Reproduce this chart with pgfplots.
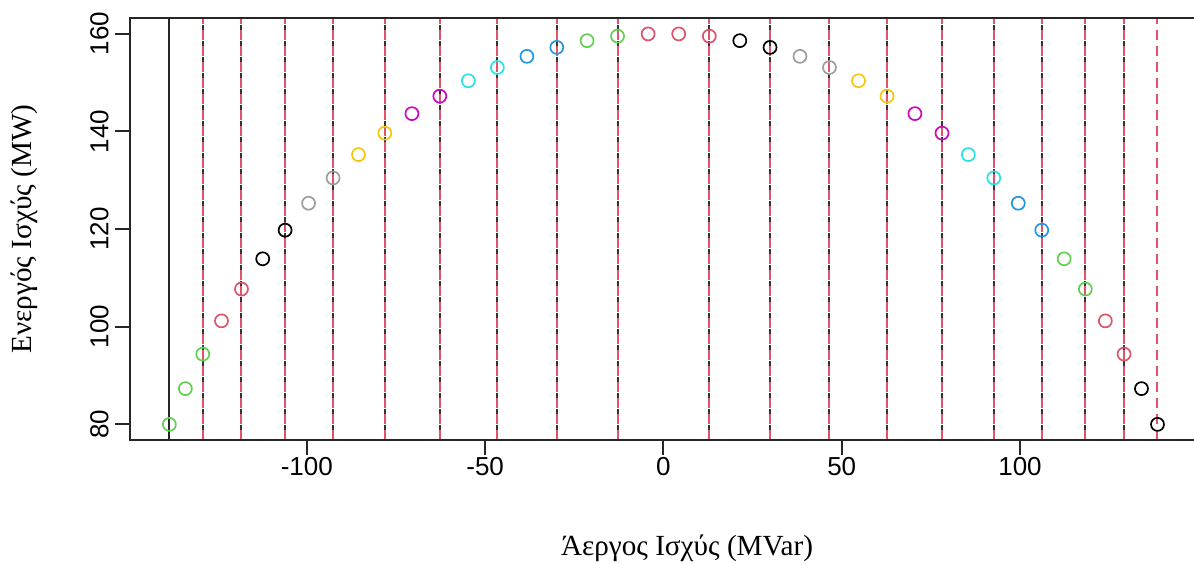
\documentclass[border=0pt]{standalone}
\usepackage{fontspec}
\setmainfont{Liberation Serif}
\setsansfont{Liberation Sans}
\usepackage{pgfplots}
\pgfplotsset{compat=1.18}
\usetikzlibrary{calc}
\definecolor{rblack}{HTML}{000000}
\definecolor{rred}{HTML}{DF536B}
\definecolor{rgreen}{HTML}{61D04F}
\definecolor{rblue}{HTML}{2297E6}
\definecolor{rcyan}{HTML}{28E2E5}
\definecolor{rmagenta}{HTML}{CD0BBC}
\definecolor{ryellow}{HTML}{F5C710}
\definecolor{rgray}{HTML}{9E9E9E}
\begin{document}
\begin{tikzpicture}
\begin{axis}[name=ax, scale only axis, width=532pt, height=211pt,
  xmin=-149.6, xmax=148.8, ymin=76.8, ymax=163.2,
  clip=false,
  axis line style={draw=none},
  xtick={-100,-50,0,50,100}, xticklabels={-100,-50,0,50,100},
  ytick={80,100,120,140,160}, yticklabels={80,100,120,140,160},
  xtick pos=lower, ytick pos=left,
  tick align=outside, major tick length=7.5pt,
  tick style={black!85, line width=1pt},
  ticklabel style={font=\fontsize{13}{15}\sffamily},
  xticklabel style={anchor=north, inner sep=0pt},
  xticklabel shift=1pt,
  yticklabel style={rotate=90, anchor=south, inner sep=0pt},
  yticklabel shift=3pt,
  xlabel={Άεργος Ισχύς (MVar)},
  ylabel={Ενεργός Ισχύς (MW)},
  label style={font=\fontsize{14.6}{17}\selectfont},
  xlabel style={at={(axis description cs:0.5235,0)}, anchor=center, yshift=-54pt},
  ylabel style={at={(axis description cs:0,0.5)}, anchor=center, yshift=53pt},
  every axis plot/.append style={only marks, mark=o, mark size=3.25pt, mark options={line width=0.85pt}},
]
\addplot[rgreen] coordinates {(-138.56,80.00) (-134.07,87.32) (-129.19,94.39) (-21.42,158.56) (-12.87,159.48) (112.38,113.90) (118.33,107.70)};
\addplot[rred] coordinates {(-123.94,101.19) (-118.33,107.70) (-4.29,159.94) (4.29,159.94) (12.87,159.48) (123.94,101.19) (129.19,94.39)};
\addplot[rblack] coordinates {(-112.38,113.90) (-106.10,119.76) (21.42,158.56) (29.90,157.18) (134.07,87.32) (138.56,80.00)};
\addplot[rgray] coordinates {(-99.52,125.28) (-92.65,130.45) (38.29,155.35) (46.57,153.07)};
\addplot[ryellow] coordinates {(-85.52,135.23) (-78.13,139.63) (54.72,150.35) (62.71,147.20)};
\addplot[rmagenta] coordinates {(-70.53,143.62) (-62.71,147.20) (70.53,143.62) (78.13,139.63)};
\addplot[rcyan] coordinates {(-54.72,150.35) (-46.57,153.07) (85.52,135.23) (92.65,130.45)};
\addplot[rblue] coordinates {(-38.29,155.35) (-29.90,157.18) (99.52,125.28) (106.10,119.76)};
\draw[black!85, line width=1pt] (axis cs:-138.56,76.8) -- (axis cs:-138.56,163.2);
\pgfplotsinvokeforeach{-129.19,-118.33,-106.10,-92.65,-78.13,-62.71,-46.57,-29.90,-12.87,12.87,29.90,46.57,62.71,78.13,92.65,106.10,118.33,129.19,138.56}{
  \draw[rred, line width=1pt, dash pattern=on 5pt off 3pt] (axis cs:#1,76.8) -- (axis cs:#1,163.2);
}
\pgfplotsinvokeforeach{-129.19,-118.33,-106.10,-92.65,-78.13,-62.71,-46.57,-29.90,-12.87,12.87,29.90,46.57,62.71,78.13,92.65,106.10,118.33,129.19}{
  \draw[black!80, line width=1pt, dash pattern=on 2.5pt off 5.5pt, dash phase=2.75pt] (axis cs:#1,76.8) -- (axis cs:#1,163.2);
}
\end{axis}
\draw[black!85, line width=1pt] (ax.south east) -- (ax.south west) -- (ax.north west) -- (ax.north east);
\pgfresetboundingbox
\path[use as bounding box] ($(ax.south west)+(-65pt,-61.5pt)$) rectangle ($(ax.north east)+(0pt,9pt)$);
\end{tikzpicture}
\end{document}
